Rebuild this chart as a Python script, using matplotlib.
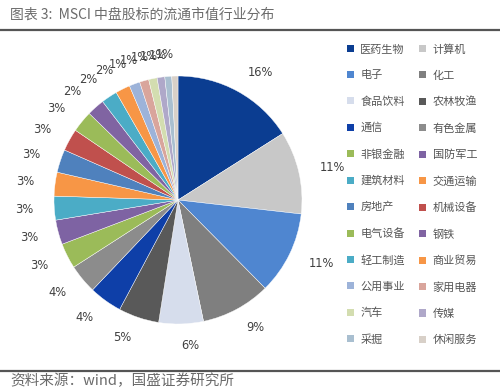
import matplotlib
matplotlib.use("Agg")
import matplotlib.pyplot as plt
from matplotlib.patches import Patch
from matplotlib.lines import Line2D

plt.rcParams['font.family'] = ['Noto Sans CJK SC', 'DejaVu Sans']

industries = ['医药生物', '计算机', '电子', '化工', '食品饮料', '农林牧渔',
              '通信', '有色金属', '非银金融', '国防军工', '建筑材料', '交通运输',
              '房地产', '机械设备', '电气设备', '钢铁', '轻工制造', '商业贸易',
              '公用事业', '家用电器', '汽车', '传媒', '采掘', '休闲服务']
shares = [16.0, 10.8, 10.8, 9.1, 5.8, 5.3, 4.3, 3.8, 3.3, 3.2, 3.1, 3.1,
          3.0, 2.9, 2.8, 2.3, 2.1, 1.9, 1.4, 1.2, 1.1, 1.0, 0.9, 0.8]
colors = ['#0B3D91', '#C8C8C8', '#4F86D0', '#7F7F7F', '#D6DDEC', '#595959',
          '#0E3FA8', '#8C8C8C', '#9BBB59', '#7E63A3', '#4BACC6', '#F79646',
          '#4F81BD', '#C0504D', '#9BBB59', '#8064A2', '#4BACC6', '#F79646',
          '#9DB3D9', '#D9A59C', '#D3DDB0', '#AFA8C9', '#A9BFD0', '#D8D0C8']

title = '图表 3:  MSCI 中盘股标的流通市值行业分布'
source = '资料来源：wind，国盛证券研究所'

W, H = 500, 390
fig = plt.figure(figsize=(W / 100, H / 100), dpi=100)

# title and rules
fig.text(10 / W, 1 - 15 / H, title, fontsize=10, color='#6b6b6b',
         ha='left', va='center', style='italic')
fig.add_artist(Line2D([0, 1], [1 - 30 / H, 1 - 30 / H], color='#555555', lw=1.6))
fig.add_artist(Line2D([0, 1], [1 - 371 / H, 1 - 371 / H], color='#555555', lw=1.6))
fig.text(10 / W, 1 - 381 / H, source, fontsize=10.5, color='#6b6b6b',
         ha='left', va='center', style='italic')

# pie
cx, cy, r = 178, 200, 124
ax = fig.add_axes([(cx - r) / W, (H - cy - r) / H, 2 * r / W, 2 * r / H])
labels = [f'{round(v)}%' for v in shares]
wedges, texts = ax.pie(shares, colors=colors, startangle=90, counterclock=False,
                       labels=labels, labeldistance=1.17,
                       wedgeprops=dict(linewidth=0.3, edgecolor='white'),
                       textprops=dict(fontsize=8.3, color='#404040',
                                      family=['DejaVu Sans']))
ax.set_xlim(-1, 1)
ax.set_ylim(-1, 1)
ax.set_aspect('equal')

# legend, filled row-wise
handles = [Patch(facecolor=c, edgecolor='none') for c in colors]
order = list(range(0, 24, 2)) + list(range(1, 24, 2))
leg = fig.legend([handles[i] for i in order], [industries[i] for i in order],
                 ncol=2, loc='upper left', bbox_to_anchor=(337 / W, 1 - 34 / H),
                 frameon=False, fontsize=8, labelcolor='#555555',
                 handlelength=0.6, handleheight=0.6, handletextpad=0.6,
                 labelspacing=1.43, columnspacing=1.3)

fig.savefig('out.png', dpi=100)
